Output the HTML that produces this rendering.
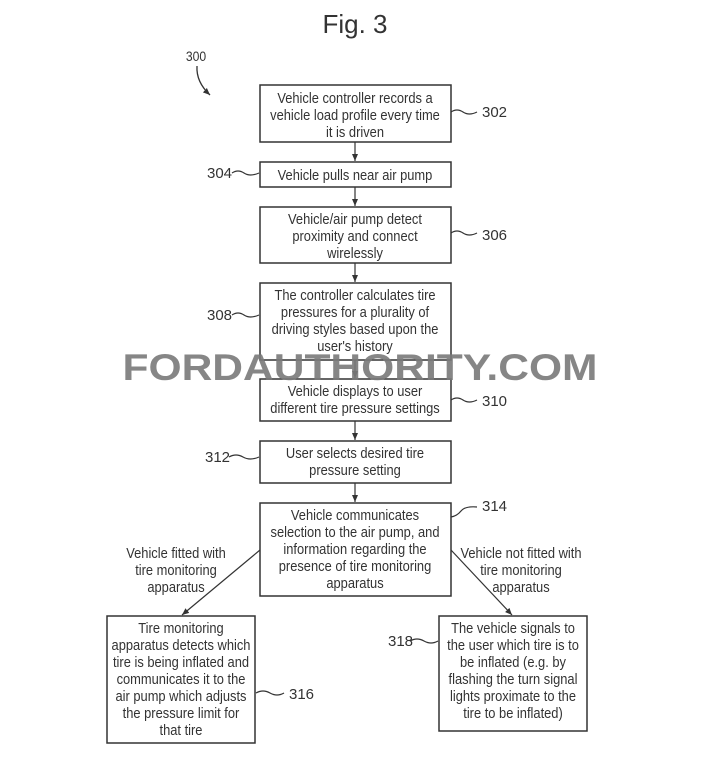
<!DOCTYPE html>
<html><head><meta charset="utf-8"><style>
html,body{margin:0;padding:0;background:#fff;}
svg{display:block}
text{font-family:"Liberation Sans",Arial,sans-serif;fill:#333;}
</style></head><body>
<svg width="720" height="757" viewBox="0 0 720 757" xmlns="http://www.w3.org/2000/svg">
<defs><marker id="a" markerWidth="8" markerHeight="8" refX="7" refY="4" orient="auto" markerUnits="userSpaceOnUse"><path d="M0,1 L7,4 L0,7 z" fill="#333"/></marker></defs>
<text x="355" y="33" font-size="26" text-anchor="middle">Fig. 3</text>
<text x="196" y="61" font-size="14" text-anchor="middle" transform="translate(196,0) scale(0.87,1) translate(-196,0)">300</text>
<path d="M197,66 Q196,82 210,95" fill="none" stroke="#333" stroke-width="1.3" marker-end="url(#a)"/>
<g fill="none" stroke="#333" stroke-width="1.5">
<rect x="260" y="85" width="191" height="57"/>
<rect x="260" y="162" width="191" height="25"/>
<rect x="260" y="207" width="191" height="56"/>
<rect x="260" y="283" width="191" height="77"/>
<rect x="260" y="379" width="191" height="42"/>
<rect x="260" y="441" width="191" height="42"/>
<rect x="260" y="503" width="191" height="93"/>
<rect x="107" y="616" width="148" height="127"/>
<rect x="439" y="616" width="148" height="115"/>
</g>
<g stroke="#333" stroke-width="1.2" marker-end="url(#a)">
<line x1="355" y1="142" x2="355" y2="161"/>
<line x1="355" y1="187" x2="355" y2="206"/>
<line x1="355" y1="263" x2="355" y2="282"/>
<line x1="355" y1="360" x2="355" y2="378"/>
<line x1="355" y1="421" x2="355" y2="440"/>
<line x1="355" y1="483" x2="355" y2="502"/>
<line x1="260" y1="550" x2="182" y2="615"/>
<line x1="451" y1="550" x2="512" y2="615"/>
</g>
<g fill="none" stroke="#333" stroke-width="1.2">
<path d="M451,112 q6,-4 12,0 t14,0"/>
<path d="M232,173 q6,-4 12,0 t15,0"/>
<path d="M451,233 q6,-4 12,0 t14,0"/>
<path d="M232,315 q6,-4 12,0 t15,0"/>
<path d="M451,400 q6,-4 12,0 t14,0"/>
<path d="M229,457 q7,-4 14,0 t16,0"/>
<path d="M451,517 q6,-1 10,-6 t16,-4"/>
<path d="M256,693 q7,-4 14,0 t14,0"/>
<path d="M410,641 q7,-4 14,0 t14,0"/>
</g>
<g font-size="15">
<text x="482" y="117">302</text>
<text x="207" y="178">304</text>
<text x="482" y="240">306</text>
<text x="207" y="320">308</text>
<text x="482" y="406">310</text>
<text x="205" y="462">312</text>
<text x="482" y="511">314</text>
<text x="289" y="699">316</text>
<text x="388" y="646">318</text>
</g>
<text x="360" y="380" font-size="37" font-weight="bold" textLength="475" lengthAdjust="spacingAndGlyphs" text-anchor="middle" style="fill:#7a7a7a;opacity:0.9">FORDAUTHORITY.COM</text>
<g font-size="15" text-anchor="middle">
<g transform="translate(355,0) scale(0.86,1)">
<text x="0" y="103">Vehicle controller records a</text>
<text x="0" y="120">vehicle load profile every time</text>
<text x="0" y="137">it is driven</text>
<text x="0" y="180">Vehicle pulls near air pump</text>
<text x="0" y="224">Vehicle/air pump detect</text>
<text x="0" y="241">proximity and connect</text>
<text x="0" y="258">wirelessly</text>
<text x="0" y="300">The controller calculates tire</text>
<text x="0" y="317">pressures for a plurality of</text>
<text x="0" y="334">driving styles based upon the</text>
<text x="0" y="351">user's history</text>
<text x="0" y="396">Vehicle displays to user</text>
<text x="0" y="413">different tire pressure settings</text>
<text x="0" y="458">User selects desired tire</text>
<text x="0" y="475">pressure setting</text>
<text x="0" y="520">Vehicle communicates</text>
<text x="0" y="537">selection to the air pump, and</text>
<text x="0" y="554">information regarding the</text>
<text x="0" y="571">presence of tire monitoring</text>
<text x="0" y="588">apparatus</text>
</g>
<g transform="translate(176,0) scale(0.86,1)">
<text x="0" y="558">Vehicle fitted with</text>
<text x="0" y="575">tire monitoring</text>
<text x="0" y="592">apparatus</text>
</g>
<g transform="translate(521,0) scale(0.86,1)">
<text x="0" y="558">Vehicle not fitted with</text>
<text x="0" y="575">tire monitoring</text>
<text x="0" y="592">apparatus</text>
</g>
<g transform="translate(181,0) scale(0.86,1)">
<text x="0" y="633">Tire monitoring</text>
<text x="0" y="650">apparatus detects which</text>
<text x="0" y="667">tire is being inflated and</text>
<text x="0" y="684">communicates it to the</text>
<text x="0" y="701">air pump which adjusts</text>
<text x="0" y="718">the pressure limit for</text>
<text x="0" y="735">that tire</text>
</g>
<g transform="translate(513,0) scale(0.86,1)">
<text x="0" y="633">The vehicle signals to</text>
<text x="0" y="650">the user which tire is to</text>
<text x="0" y="667">be inflated (e.g. by</text>
<text x="0" y="684">flashing the turn signal</text>
<text x="0" y="701">lights proximate to the</text>
<text x="0" y="718">tire to be inflated)</text>
</g>
</g>
</svg>
</body></html>
